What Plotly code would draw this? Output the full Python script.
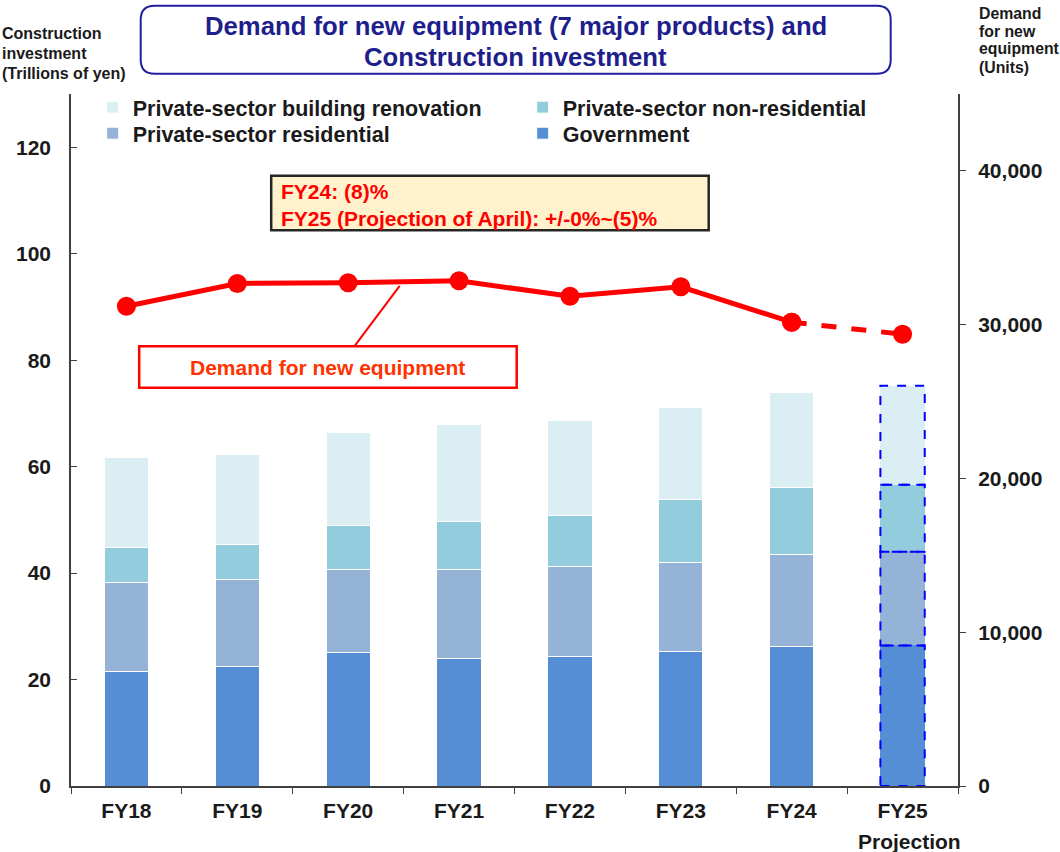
import plotly.graph_objects as go

# ---------------- data ----------------
categories = ["FY18", "FY19", "FY20", "FY21", "FY22", "FY23", "FY24", "FY25"]
government = [21.5, 22.4, 25.1, 24.0, 24.4, 25.2, 26.3, 26.4]
residential = [16.8, 16.4, 15.6, 16.7, 16.8, 16.7, 17.1, 17.6]
non_residential = [6.5, 6.5, 8.3, 8.9, 9.7, 12.0, 12.6, 12.6]
renovation = [16.9, 16.9, 17.4, 18.3, 17.7, 17.2, 17.9, 18.6]
demand_units = [31200, 32680, 32720, 32850, 31850, 32460, 30160, 29380]

left_ticks = [0, 20, 40, 60, 80, 100, 120]
right_ticks = [0, 10000, 20000, 30000, 40000]

# ---------------- layout helpers (pixel -> paper) ----------------
W, H = 1060, 852
PL, PR, PT, PB = 71.3, 958.3, 94.3, 786.0


def px(x):
    return (x - PL) / (PR - PL)


def py(y):
    return (PB - y) / (PB - PT)


FONT = "Liberation Sans, Arial, sans-serif"
TXT = "#1a1a1a"


def bfont(size, color=TXT):
    return dict(family=FONT, size=size, color=color, weight="bold")


col_gov = "#558ED5"
col_res = "#95B3D7"
col_non = "#93CDDD"
col_ren = "#DBEEF4"

fig = go.Figure()
shapes = []
annotations = []

# (name, values, colour, legend id)  -- legend id places each entry in the 2x2 key
series = [
    ("Government", government, col_gov, "legend4"),
    ("Private-sector residential", residential, col_res, "legend3"),
    ("Private-sector non-residential", non_residential, col_non, "legend2"),
    ("Private-sector building renovation", renovation, col_ren, "legend"),
]
last = len(categories) - 1
for name, vals, col, leg in series:
    lw = [1] * len(vals)
    lw[last] = 0
    fig.add_trace(go.Bar(
        x=categories, y=vals, name=name,
        marker=dict(color=col, line=dict(color="white", width=lw)),
        width=0.4, legend=leg, hoverinfo="skip",
    ))

# dashed outlines for the projected FY25 bar segments
base = 0.0
for name, vals, col, leg in series:
    v = vals[last]
    shapes.append(dict(type="rect", xref="x", yref="y",
                       x0=last - 0.2, x1=last + 0.2, y0=base, y1=base + v,
                       line=dict(color="#0000FF", width=2, dash="dash"),
                       fillcolor="rgba(0,0,0,0)", layer="above"))
    base += v

# demand line: solid up to FY24, dashed FY24->FY25
fig.add_trace(go.Scatter(
    x=categories[-2:], y=demand_units[-2:], yaxis="y2", mode="lines+markers",
    line=dict(color="#FF0000", width=5, dash="dash"), marker=dict(size=19, color="#FF0000"),
    showlegend=False, hoverinfo="skip",
))
fig.add_trace(go.Scatter(
    x=categories[:-1], y=demand_units[:-1], yaxis="y2", mode="lines+markers",
    line=dict(color="#FF0000", width=5), marker=dict(size=19, color="#FF0000"),
    showlegend=False, hoverinfo="skip",
))

# ---------------- shapes & annotations ----------------
# rounded title box
x0, x1, y0, y1, r = px(141), px(891), py(6), py(74), 14
rx, ry = r / (PR - PL), r / (PB - PT)
path = (f"M {x0+rx},{y0} L {x1-rx},{y0} Q {x1},{y0} {x1},{y0-ry} "
        f"L {x1},{y1+ry} Q {x1},{y1} {x1-rx},{y1} L {x0+rx},{y1} "
        f"Q {x0},{y1} {x0},{y1+ry} L {x0},{y0-ry} Q {x0},{y0} {x0+rx},{y0} Z")
shapes.append(dict(type="path", xref="paper", yref="paper", path=path,
                   line=dict(color="#1F1FA0", width=2), fillcolor="white"))
annotations.append(dict(xref="paper", yref="paper", x=px(516), y=py(26),
                        text="Demand for new equipment (7 major products) and",
                        showarrow=False, font=bfont(25.7, "#1F1F8C"),
                        xanchor="center", yanchor="middle"))
annotations.append(dict(xref="paper", yref="paper", x=px(516), y=py(57),
                        text="Construction investment",
                        showarrow=False, font=bfont(25.7, "#1F1F8C"),
                        xanchor="center", yanchor="middle"))

# axis titles (one annotation per line for exact spacing)
for txt, yy in [("Construction", 33.5), ("investment", 53.5), ("(Trillions of yen)", 73.5)]:
    annotations.append(dict(xref="paper", yref="paper", x=px(0), y=py(yy), text=txt,
                            showarrow=False, font=bfont(16), xanchor="left", yanchor="middle"))
for txt, yy in [("Demand", 14), ("for new", 31.5), ("equipment", 49), ("(Units)", 67.5)]:
    annotations.append(dict(xref="paper", yref="paper", x=px(977.5), y=py(yy), text=txt,
                            showarrow=False, font=bfont(15.8), xanchor="left", yanchor="middle"))

# FY24 / FY25 box
shapes.append(dict(type="rect", xref="paper", yref="paper",
                   x0=px(271.5), x1=px(709), y0=py(176), y1=py(230.5),
                   line=dict(color="#262626", width=2.5), fillcolor="#FFF2CC"))
annotations.append(dict(xref="paper", yref="paper", x=px(279), y=py(191.5),
                        text="FY24: (8)%", showarrow=False, font=bfont(21, "#FF0000"),
                        xanchor="left", yanchor="middle"))
annotations.append(dict(xref="paper", yref="paper", x=px(279), y=py(218.5),
                        text="FY25 (Projection of April): +/-0%~(5)%", showarrow=False,
                        font=bfont(21, "#FF0000"), xanchor="left", yanchor="middle"))

# callout for line
shapes.append(dict(type="line", xref="paper", yref="paper",
                   x0=px(355), y0=py(346), x1=px(400), y1=py(286),
                   line=dict(color="#FF0000", width=2)))
shapes.append(dict(type="rect", xref="paper", yref="paper",
                   x0=px(139.5), x1=px(517), y0=py(346.5), y1=py(388),
                   line=dict(color="#FF0000", width=2.5), fillcolor="white"))
annotations.append(dict(xref="paper", yref="paper", x=px(328), y=py(368),
                        text="Demand for new equipment",
                        showarrow=False, font=bfont(21, "#FF3300"),
                        xanchor="center", yanchor="middle"))

# Projection label under FY25
annotations.append(dict(xref="x", yref="paper", x=categories[-1], y=py(841), xshift=7,
                        text="Projection", showarrow=False, font=bfont(21),
                        xanchor="center", yanchor="middle"))


def leg(xpix, ypix):
    return dict(x=px(xpix), y=py(ypix), xanchor="left", yanchor="top",
                orientation="v", bgcolor="rgba(0,0,0,0)",
                font=bfont(21.5), itemclick=False, itemdoubleclick=False)


fig.update_layout(
    width=W, height=H,
    margin=dict(l=PL, r=W - PR, t=PT, b=H - PB, pad=0),
    paper_bgcolor="white", plot_bgcolor="white",
    barmode="stack", bargap=0.6,
    font=dict(family=FONT, color=TXT),
    xaxis=dict(type="category", range=[-0.5, 7.5], showline=True, linecolor="#404040",
               linewidth=2, ticks="outside", ticklen=6, tickcolor="#404040",
               tickson="boundaries", showgrid=False, ticklabelstandoff=5,
               tickfont=bfont(21)),
    yaxis=dict(range=[0, 130], tickvals=left_ticks, showline=True, linecolor="#404040",
               linewidth=1.5, ticks="inside", ticklen=6, tickcolor="#404040",
               showgrid=False, zeroline=False,
               tickfont=bfont(21), ticklabelstandoff=14),
    yaxis2=dict(range=[0, 45000], tickvals=right_ticks, overlaying="y", side="right",
                showline=True, linecolor="#404040", linewidth=2, ticks="outside",
                ticklen=6, tickcolor="#404040", showgrid=False, zeroline=False,
                tickformat=",", tickfont=bfont(21), ticklabelstandoff=8),
    legend=leg(93, 87),
    legend2=leg(523, 87),
    legend3=leg(93, 113),
    legend4=leg(523, 113),
    shapes=shapes, annotations=annotations,
    showlegend=True,
)

fig.write_html("out.html", config={"displayModeBar": False},
               post_script="document.body.style.margin='0px';")
